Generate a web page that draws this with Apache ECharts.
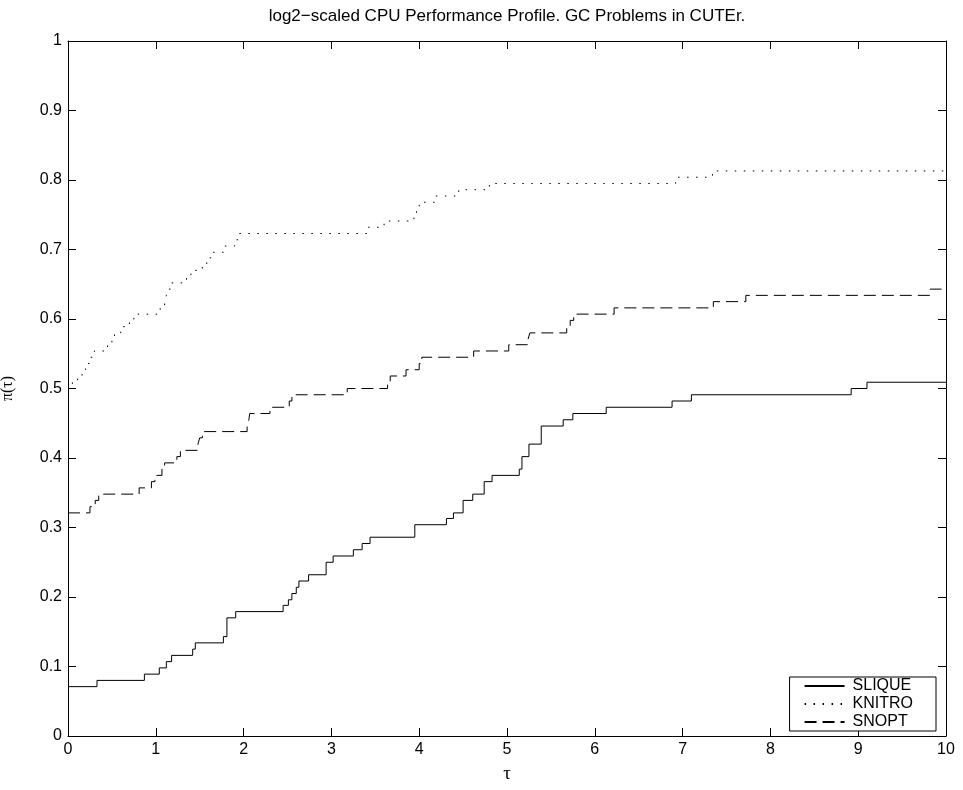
<!DOCTYPE html>
<html>
<head>
<meta charset="utf-8">
<script src="https://cdn.jsdelivr.net/npm/echarts@6/dist/echarts.min.js"></script>
<style>
  html, body { margin: 0; padding: 0; background: #fff; }
  #main { width: 963px; height: 790px; }
</style>
</head>
<body>
<div id="main"></div>
<script>
// step points: tau where a new level starts, and that level
var sliqueTau = [0, 0.33, 0.87, 1.04, 1.12, 1.18, 1.42, 1.45, 1.77, 1.81, 1.91, 2.45, 2.51, 2.55, 2.60, 2.63, 2.74, 2.94, 3.02, 3.25, 3.35, 3.44, 3.95, 4.31, 4.39, 4.50, 4.61, 4.74, 4.83, 5.14, 5.17, 5.25, 5.39, 5.64, 5.75, 6.13, 6.88, 7.10, 8.92, 9.10, 10];
var sliquePi  = [0.071, 0.080, 0.089, 0.098, 0.107, 0.116, 0.125, 0.134, 0.143, 0.170, 0.179, 0.188, 0.196, 0.205, 0.214, 0.223, 0.232, 0.250, 0.259, 0.268, 0.277, 0.286, 0.304, 0.313, 0.321, 0.339, 0.348, 0.366, 0.375, 0.384, 0.402, 0.420, 0.446, 0.455, 0.464, 0.473, 0.482, 0.491, 0.500, 0.509, 0.509];

var knitroTau = [0, 0.05, 0.11, 0.16, 0.20, 0.25, 0.30, 0.45, 0.50, 0.53, 0.60, 0.70, 0.75, 1.05, 1.10, 1.12, 1.13, 1.18, 1.35, 1.40, 1.53, 1.58, 1.63, 1.77, 1.90, 1.95, 3.42, 3.60, 3.94, 3.97, 4.00, 4.18, 4.45, 4.80, 6.92, 7.34, 10];
var knitroPi  = [0.500, 0.509, 0.518, 0.527, 0.536, 0.545, 0.554, 0.563, 0.571, 0.580, 0.589, 0.598, 0.607, 0.616, 0.625, 0.634, 0.643, 0.652, 0.661, 0.670, 0.679, 0.688, 0.696, 0.705, 0.714, 0.723, 0.732, 0.741, 0.750, 0.759, 0.768, 0.777, 0.786, 0.795, 0.804, 0.813, 0.813];

var snoptTau = [0, 0.25, 0.31, 0.35, 0.81, 0.95, 0.99, 1.07, 1.10, 1.24, 1.28, 1.48, 1.50, 1.53, 2.04, 2.06, 2.07, 2.30, 2.52, 2.55, 3.18, 3.64, 3.67, 3.85, 4.00, 4.03, 4.62, 5.02, 5.24, 5.26, 5.68, 5.72, 5.76, 6.22, 7.35, 7.72, 9.82, 10];
var snoptPi  = [0.321, 0.330, 0.339, 0.348, 0.357, 0.366, 0.375, 0.384, 0.393, 0.402, 0.411, 0.420, 0.429, 0.438, 0.446, 0.455, 0.464, 0.473, 0.482, 0.491, 0.500, 0.509, 0.518, 0.527, 0.536, 0.545, 0.554, 0.563, 0.571, 0.580, 0.589, 0.598, 0.607, 0.616, 0.625, 0.634, 0.643, 0.643];

var xTicks = [0, 1, 2, 3, 4, 5, 6, 7, 8, 9, 10];
var yTicks = [0, 0.1, 0.2, 0.3, 0.4, 0.5, 0.6, 0.7, 0.8, 0.9, 1];

function pairs(xs, ys) {
  var out = [];
  for (var i = 0; i < xs.length; i++) {
    out.push([xs[i], ys[i]]);
  }
  return out;
}

var fnt = 'Liberation Sans, Arial, sans-serif';
var myChart = echarts.init(document.getElementById('main'));

// shared axis look, box on all 4 sides like matlab
var tickX = {
  min: xTicks[0], max: xTicks[xTicks.length - 1], interval: 1,
  axisLine: { onZero: false, lineStyle: { color: '#000', width: 1 } },
  axisTick: { inside: true, length: 8, lineStyle: { color: '#000' } },
  splitLine: { show: false }
};
var tickY = {
  min: yTicks[0], max: yTicks[yTicks.length - 1], interval: 0.1,
  axisLine: { onZero: false, lineStyle: { color: '#000', width: 1 } },
  axisTick: { inside: true, length: 8, lineStyle: { color: '#000' } },
  splitLine: { show: false }
};

var option = {
  animation: false,
  backgroundColor: '#fff',
  title: {
    text: 'log2\u2212scaled CPU Performance Profile. GC Problems in CUTEr.',
    left: 502, top: 3, textAlign: 'center',
    textStyle: { fontFamily: fnt, fontSize: 17, fontWeight: 'normal', color: '#000' }
  },
  grid: { left: 68, right: 17, top: 41, bottom: 54, outerBoundsMode: 'none', containLabel: false },
  legend: {
    orient: 'vertical',
    right: 27, bottom: 59,
    backgroundColor: '#fff',
    borderColor: '#000', borderWidth: 1, borderRadius: 0,
    padding: [1, 23, 1, 14],
    itemWidth: 40, itemHeight: 12, itemGap: 2,
    itemStyle: { opacity: 0 },
    textStyle: { fontFamily: fnt, fontSize: 16, color: '#000', padding: [0, 0, 0, 3] },
    data: ['SLIQUE', 'KNITRO', 'SNOPT']
  },
  xAxis: [
    Object.assign({
      type: 'value', position: 'bottom',
      name: '\u03c4', nameLocation: 'middle', nameGap: 29,
      nameTextStyle: { fontFamily: 'Liberation Serif, serif', fontSize: 19, color: '#000' },
      axisLabel: { fontFamily: fnt, fontSize: 16, color: '#000', margin: 6 }
    }, tickX),
    Object.assign({ type: 'value', position: 'top', axisLabel: { show: false } }, tickX)
  ],
  yAxis: [
    Object.assign({
      type: 'value', position: 'left',
      name: '\u03c0(\u03c4)', nameLocation: 'middle', nameGap: 52,
      nameTextStyle: { fontFamily: 'Liberation Serif, serif', fontSize: 16, color: '#000' },
      axisLabel: { fontFamily: fnt, fontSize: 16, color: '#000', margin: 6 }
    }, tickY),
    Object.assign({ type: 'value', position: 'right', axisLabel: { show: false } }, tickY)
  ],
  series: [
    {
      name: 'SLIQUE', type: 'line', step: 'end', symbol: 'none',
      lineStyle: { color: '#000', width: 1, type: 'solid' },
      itemStyle: { color: '#000' },
      data: pairs(sliqueTau, sliquePi)
    },
    {
      name: 'KNITRO', type: 'line', step: 'end', symbol: 'none',
      lineStyle: { color: '#000', width: 1, type: [1.5, 7.5] },
      itemStyle: { color: '#000' },
      data: pairs(knitroTau, knitroPi)
    },
    {
      name: 'SNOPT', type: 'line', step: 'end', symbol: 'none',
      lineStyle: { color: '#000', width: 1, type: [12, 6] },
      itemStyle: { color: '#000' },
      data: pairs(snoptTau, snoptPi)
    }
  ]
};

myChart.setOption(option);
</script>
</body>
</html>
